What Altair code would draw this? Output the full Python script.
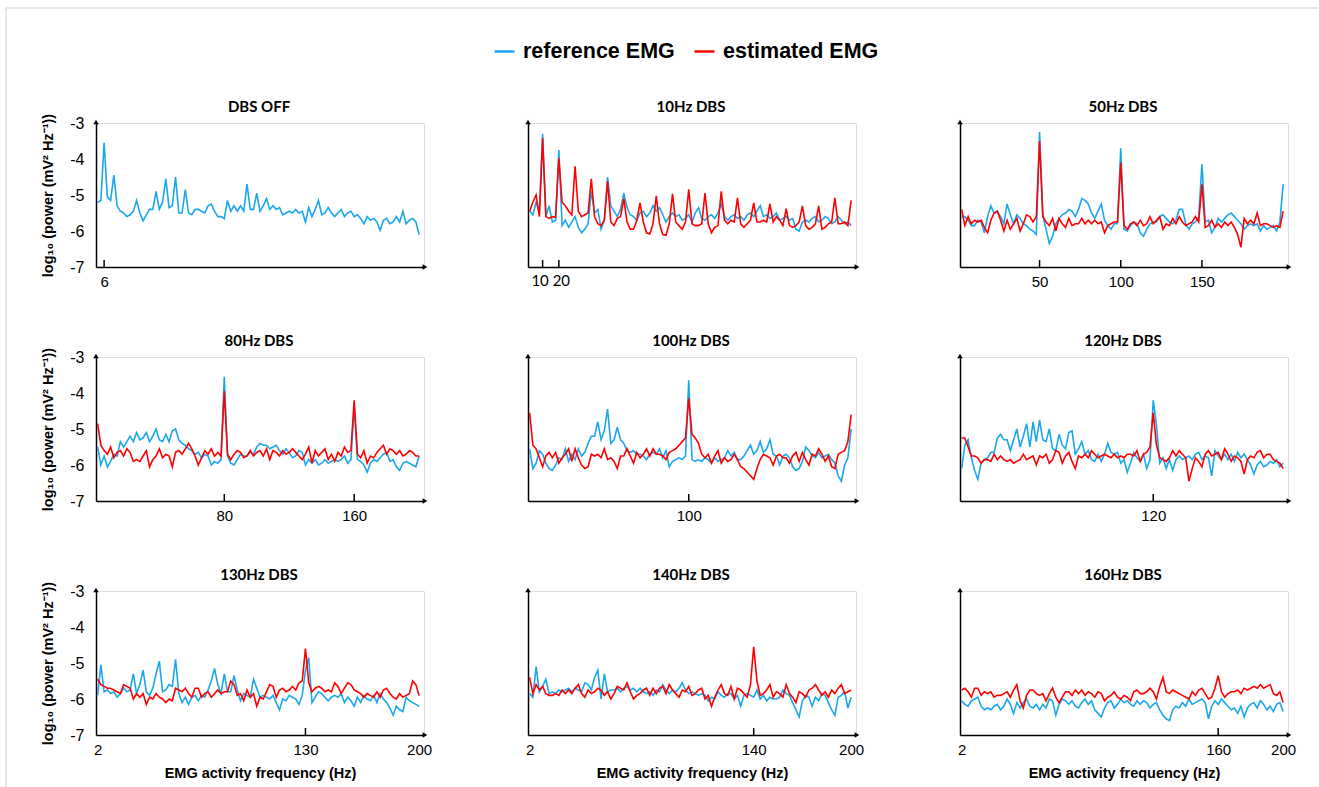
import altair as alt
import pandas as pd

FREQ = [2 * k for k in range(1, 101)]
SERIES = ["reference EMG", "estimated EMG"]
COLORS = ["#1AA7EC", "#FF0000"]

off_ref = [-5.2,-5.15,-3.55,-5.05,-5.15,-4.45,-5.3,-5.45,-5.5,-5.6,
 -5.55,-5.45,-5.15,-5.5,-5.72,-5.55,-5.4,-5.4,-4.9,-5.4,
 -5.2,-4.55,-5.35,-5.3,-4.5,-5.5,-5.5,-4.85,-5.5,-5.55,
 -5.4,-5.4,-5.45,-5.5,-5.3,-5.25,-5.45,-5.6,-5.6,-5.65,
 -5.15,-5.45,-5.3,-5.45,-5.3,-5.45,-4.7,-5.4,-5.4,-4.95,
 -5.45,-5.3,-5.1,-5.4,-5.3,-5.4,-5.35,-5.55,-5.5,-5.45,
 -5.5,-5.4,-5.5,-5.45,-5.75,-5.35,-5.6,-5.4,-5.15,-5.55,
 -5.5,-5.35,-5.5,-5.6,-5.5,-5.4,-5.6,-5.5,-5.45,-5.6,
 -5.55,-5.65,-5.8,-5.6,-5.7,-5.65,-5.75,-5.98,-5.7,-5.65,
 -5.8,-5.75,-5.6,-5.75,-5.45,-5.8,-5.7,-5.65,-5.75,-6.1]

hz10_est = [-5.45,-5.2,-5.0,-5.6,-3.42,-5.6,-5.65,-5.6,-5.62,-3.98,
 -5.2,-5.3,-5.45,-5.55,-4.2,-5.45,-5.6,-5.55,-5.5,-4.55,
 -5.6,-5.8,-5.85,-5.7,-4.62,-5.75,-5.85,-5.65,-5.6,-5.1,
 -5.75,-5.95,-5.95,-5.7,-5.22,-5.75,-6.05,-6.08,-5.8,-5.02,
 -5.8,-6.1,-6.12,-5.8,-4.97,-5.75,-5.85,-5.95,-5.75,-4.84,
 -5.8,-5.85,-5.85,-5.8,-4.95,-5.8,-6.05,-5.9,-5.85,-4.9,
 -5.7,-5.8,-5.7,-5.75,-5.08,-5.8,-5.9,-5.8,-5.7,-5.22,
 -5.75,-5.75,-5.7,-5.75,-5.25,-5.75,-5.6,-5.7,-5.85,-5.38,
 -5.85,-5.9,-5.85,-5.75,-5.3,-5.85,-5.95,-5.9,-5.8,-5.3,
 -5.95,-5.9,-5.8,-5.75,-5.08,-5.8,-5.8,-5.75,-5.85,-5.15]

hz10_ref = [-5.45,-5.55,-5.2,-5.5,-3.3,-5.6,-5.3,-5.75,-5.7,-3.75,
 -5.85,-5.7,-5.9,-5.75,-5.6,-5.9,-6.05,-5.95,-5.8,-4.9,
 -5.5,-5.4,-5.95,-5.7,-4.5,-5.3,-5.45,-5.6,-5.4,-4.95,
 -5.35,-5.55,-5.6,-5.7,-5.5,-5.45,-5.6,-5.5,-5.3,-5.45,
 -5.35,-5.55,-5.75,-5.6,-5.5,-5.6,-5.55,-5.7,-5.65,-5.55,
 -5.75,-5.5,-5.35,-5.65,-5.7,-5.6,-5.55,-5.65,-5.5,-5.25,
 -5.6,-5.7,-5.6,-5.55,-5.65,-5.6,-5.7,-5.55,-5.5,-5.6,
 -5.45,-5.3,-5.6,-5.55,-5.65,-5.6,-5.5,-5.7,-5.65,-5.6,
 -5.7,-5.65,-5.95,-6.0,-5.75,-5.7,-5.75,-5.65,-5.6,-5.75,
 -5.7,-5.6,-5.65,-5.8,-5.75,-5.6,-5.7,-5.8,-5.75,-5.85]

hz50_est = [-5.4,-5.85,-5.6,-5.8,-5.7,-5.75,-5.7,-5.9,-6.05,-5.7,
 -5.5,-5.45,-5.7,-6.0,-5.7,-5.95,-5.8,-5.65,-6.0,-5.8,
 -5.55,-5.6,-5.75,-5.6,-3.5,-5.6,-5.75,-5.85,-5.65,-6.0,
 -5.65,-5.8,-5.9,-5.65,-5.85,-5.8,-5.8,-5.65,-5.8,-5.7,
 -5.8,-5.7,-5.8,-5.75,-6.05,-5.85,-5.8,-5.75,-5.75,-4.1,
 -5.85,-5.95,-5.8,-5.75,-5.85,-5.7,-5.85,-5.8,-5.6,-5.8,
 -5.7,-5.6,-5.95,-5.8,-5.85,-5.65,-5.8,-5.6,-5.75,-5.85,
 -5.8,-5.75,-5.6,-5.75,-4.7,-5.9,-5.85,-5.7,-5.9,-5.8,
 -5.9,-5.75,-5.85,-5.75,-5.9,-6.1,-6.45,-5.65,-5.8,-5.7,
 -5.8,-5.5,-5.85,-5.8,-5.8,-5.85,-5.9,-5.85,-5.9,-5.45]

hz50_ref = [-5.6,-5.6,-5.7,-5.85,-5.85,-5.7,-5.75,-6.05,-5.6,-5.3,
 -5.5,-5.45,-5.6,-5.8,-5.25,-5.55,-5.8,-5.55,-5.65,-5.8,
 -5.85,-5.95,-6.0,-6.1,-3.25,-5.55,-5.95,-6.35,-6.15,-5.8,
 -5.65,-5.55,-5.5,-5.4,-5.45,-5.6,-5.4,-5.1,-5.15,-5.25,
 -5.5,-5.65,-5.45,-5.25,-5.7,-5.85,-5.95,-5.8,-5.8,-3.7,
 -5.95,-6.0,-5.85,-5.75,-5.8,-6.05,-6.15,-5.95,-5.8,-5.75,
 -5.75,-5.6,-5.55,-5.65,-5.75,-5.8,-5.7,-5.4,-5.4,-5.8,
 -5.95,-5.8,-5.75,-5.6,-4.15,-5.75,-5.7,-6.05,-5.9,-5.65,
 -5.75,-5.65,-5.55,-5.5,-5.6,-5.7,-5.8,-5.95,-5.85,-5.8,
 -5.85,-5.8,-6.0,-5.85,-5.95,-5.9,-5.85,-6.0,-5.75,-4.7]

hz80_est = [-4.85,-5.45,-5.6,-5.7,-5.5,-5.8,-5.65,-5.6,-5.75,-5.55,
 -5.65,-5.9,-5.85,-5.9,-5.75,-5.6,-6.05,-5.85,-5.75,-5.55,
 -5.8,-5.7,-5.75,-6.05,-5.65,-5.6,-5.7,-5.55,-5.4,-5.55,
 -5.75,-6.0,-5.8,-5.6,-5.7,-5.55,-5.75,-5.65,-5.75,-3.95,
 -5.7,-5.85,-5.7,-5.6,-5.65,-5.8,-5.75,-5.6,-5.75,-5.65,
 -5.6,-5.75,-5.55,-5.85,-5.6,-5.65,-5.75,-5.6,-5.7,-5.65,
 -5.55,-5.65,-5.75,-5.85,-5.7,-5.5,-5.95,-5.6,-5.75,-5.65,
 -5.55,-5.85,-5.7,-5.9,-5.65,-5.75,-5.5,-5.65,-5.6,-4.2,
 -5.7,-5.8,-5.6,-5.95,-5.75,-5.8,-5.65,-5.55,-5.45,-5.7,
 -5.55,-5.6,-5.7,-5.6,-5.75,-5.7,-5.6,-5.65,-5.75,-5.75]

hz80_ref = [-5.5,-6.0,-5.75,-6.05,-5.9,-5.7,-5.75,-5.35,-5.5,-5.35,
 -5.2,-5.35,-5.1,-5.3,-5.25,-5.1,-5.35,-5.2,-5.0,-5.3,
 -5.35,-5.15,-5.35,-5.05,-5.0,-5.3,-5.4,-5.45,-5.55,-5.6,
 -5.7,-5.65,-5.8,-5.7,-5.75,-6.0,-5.9,-5.95,-5.85,-3.55,
 -5.75,-5.95,-6.0,-5.85,-5.7,-5.75,-5.75,-5.65,-5.7,-5.5,
 -5.4,-5.45,-5.45,-5.55,-5.5,-5.45,-5.6,-5.7,-5.55,-5.65,
 -5.8,-5.75,-5.6,-5.65,-6.0,-5.85,-5.95,-5.85,-6.0,-5.95,
 -5.85,-5.95,-5.9,-5.85,-5.9,-5.85,-5.75,-5.95,-5.85,-4.35,
 -5.85,-5.9,-6.0,-6.2,-5.95,-5.85,-5.9,-5.8,-5.7,-5.65,
 -5.9,-5.85,-6.05,-6.15,-5.95,-5.9,-5.95,-6.0,-6.05,-5.75]

hz100_est = [-4.55,-5.45,-5.55,-5.8,-6.05,-5.75,-5.65,-5.8,-5.65,-5.95,
 -5.8,-5.7,-5.55,-5.9,-5.55,-5.8,-6.0,-6.1,-6.05,-5.7,
 -5.75,-5.7,-5.8,-5.55,-5.85,-5.8,-5.9,-6.1,-5.75,-5.75,
 -5.55,-5.75,-5.95,-5.65,-5.8,-5.7,-5.55,-5.75,-5.55,-5.7,
 -5.7,-5.75,-5.85,-5.65,-5.6,-5.55,-5.45,-5.35,-5.25,-4.15,
 -5.15,-5.25,-5.4,-5.7,-5.8,-5.7,-5.95,-5.75,-5.6,-5.95,
 -5.8,-5.9,-5.85,-5.7,-5.85,-6.05,-6.1,-6.2,-6.3,-6.4,
 -6.1,-5.85,-5.7,-5.75,-5.8,-6.0,-5.75,-5.7,-5.8,-5.8,
 -5.95,-5.75,-5.65,-5.9,-5.65,-5.85,-6.0,-5.7,-5.75,-5.55,
 -5.7,-5.9,-5.75,-6.05,-6.1,-5.7,-5.65,-5.6,-5.35,-4.6]

hz100_ref = [-5.55,-6.1,-5.95,-5.6,-5.7,-5.95,-6.1,-6.15,-6.0,-5.8,
 -5.85,-5.55,-5.9,-5.7,-5.85,-5.55,-5.75,-5.65,-5.4,-5.2,
 -5.2,-4.8,-5.3,-5.05,-4.45,-5.4,-5.3,-4.95,-5.3,-5.4,
 -5.6,-5.65,-5.6,-5.7,-5.7,-5.75,-5.85,-5.7,-5.65,-5.7,
 -5.55,-5.8,-5.6,-6.05,-5.9,-5.85,-5.8,-5.85,-5.75,-3.65,
 -5.85,-5.9,-5.85,-5.9,-5.8,-5.85,-5.95,-5.8,-5.9,-5.85,
 -5.8,-5.6,-5.75,-5.65,-5.85,-5.85,-5.75,-5.6,-5.45,-5.7,
 -5.6,-5.35,-5.65,-5.55,-5.3,-5.7,-5.75,-6.0,-5.75,-5.7,
 -5.8,-6.05,-6.15,-6.1,-5.9,-5.5,-5.6,-5.75,-5.8,-5.65,
 -5.8,-5.75,-5.7,-5.85,-5.95,-6.3,-6.45,-6.0,-5.8,-5.0]

hz120_est = [-5.25,-5.25,-5.5,-5.75,-5.75,-5.8,-5.95,-5.85,-5.85,-5.9,
 -5.7,-5.85,-5.75,-5.85,-5.9,-5.85,-5.95,-5.9,-5.85,-5.7,
 -5.85,-5.8,-5.75,-6.0,-5.75,-5.8,-5.7,-5.95,-5.85,-5.6,
 -5.65,-5.95,-5.75,-5.65,-5.9,-6.1,-5.75,-5.8,-5.7,-5.8,
 -5.6,-5.7,-5.8,-5.75,-5.7,-5.75,-5.8,-5.7,-5.8,-5.75,
 -5.8,-5.7,-5.7,-5.75,-5.6,-5.9,-5.7,-5.65,-5.5,-4.55,
 -5.45,-5.8,-5.85,-5.9,-5.8,-5.6,-5.75,-5.6,-5.7,-5.8,
 -6.45,-6.1,-5.8,-5.9,-6.05,-5.7,-5.6,-5.75,-5.7,-5.65,
 -5.85,-5.55,-5.7,-5.9,-5.75,-5.8,-5.9,-6.25,-5.85,-5.75,
 -5.8,-5.65,-5.6,-5.8,-5.7,-5.7,-5.85,-5.9,-5.95,-6.1]

hz120_ref = [-6.1,-5.45,-5.3,-5.8,-6.15,-6.4,-5.95,-5.85,-5.8,-5.65,
 -5.65,-5.25,-5.15,-5.3,-5.3,-5.6,-5.3,-5.0,-5.5,-5.2,
 -4.85,-5.5,-4.8,-5.35,-4.75,-5.3,-5.35,-5.0,-5.55,-5.6,
 -5.15,-5.45,-5.55,-5.1,-5.05,-5.7,-5.55,-5.35,-5.7,-5.6,
 -5.85,-5.9,-5.7,-5.9,-5.7,-5.4,-5.65,-5.7,-5.65,-5.95,
 -5.85,-6.2,-5.95,-5.65,-5.8,-5.9,-5.7,-6.1,-5.85,-4.2,
 -4.9,-5.95,-5.8,-6.1,-5.85,-6.15,-5.85,-5.75,-5.85,-5.8,
 -5.75,-5.85,-5.7,-5.65,-5.85,-5.75,-5.8,-6.3,-5.6,-5.75,
 -5.85,-5.7,-5.85,-5.7,-5.9,-5.65,-5.8,-5.7,-5.85,-6.0,
 -6.25,-6.0,-5.9,-6.05,-6.0,-5.9,-5.95,-5.85,-6.05,-5.95]

hz130_est = [-5.45,-5.6,-5.65,-5.7,-5.7,-5.75,-5.8,-5.85,-5.6,-5.65,
 -5.7,-6.0,-5.85,-5.95,-5.85,-6.15,-5.95,-6.0,-5.85,-5.95,
 -6.0,-6.1,-6.0,-6.05,-5.7,-5.75,-5.8,-5.7,-5.85,-5.95,
 -5.7,-5.7,-5.95,-5.85,-5.8,-5.95,-5.85,-5.75,-5.85,-5.8,
 -5.8,-5.5,-5.6,-5.9,-5.85,-6.05,-5.75,-5.95,-5.85,-6.2,
 -5.95,-6.0,-5.8,-5.6,-5.65,-5.95,-5.75,-5.7,-5.8,-5.75,
 -5.65,-5.75,-5.55,-5.5,-4.6,-5.55,-5.8,-5.7,-5.65,-5.7,
 -5.8,-5.75,-5.8,-5.55,-5.65,-5.85,-5.7,-5.55,-5.6,-5.75,
 -5.8,-5.85,-5.95,-5.85,-5.9,-5.95,-5.8,-5.95,-5.75,-5.7,
 -5.85,-5.95,-6.0,-5.85,-5.95,-5.9,-5.85,-5.5,-5.6,-5.9]

hz130_ref = [-5.9,-5.05,-5.8,-5.75,-5.85,-5.8,-5.95,-5.85,-5.7,-5.8,
 -5.75,-5.3,-5.85,-5.6,-5.2,-5.8,-5.9,-5.7,-5.3,-4.95,
 -5.8,-5.75,-5.6,-5.65,-4.9,-5.85,-6.1,-5.95,-6.15,-5.95,
 -5.9,-6.05,-5.9,-5.95,-5.75,-5.5,-5.15,-5.6,-5.85,-5.3,
 -5.8,-5.8,-5.35,-5.75,-6.05,-5.85,-5.9,-5.95,-5.45,-5.7,
 -5.95,-5.9,-5.95,-6.0,-5.9,-6.1,-6.3,-6.0,-6.05,-5.9,
 -5.95,-6.0,-6.15,-5.9,-5.2,-4.85,-6.1,-5.95,-5.8,-5.85,
 -5.95,-6.05,-5.95,-5.9,-5.95,-5.85,-6.1,-5.95,-6.05,-6.2,
 -5.95,-6.1,-5.9,-6.0,-6.05,-5.9,-6.1,-5.85,-6.0,-6.1,
 -6.25,-6.45,-6.2,-6.3,-6.35,-5.95,-6.05,-6.1,-6.15,-6.2]

hz140_est = [-5.4,-5.85,-5.6,-5.75,-5.65,-5.85,-5.9,-5.9,-5.85,-5.9,
 -5.75,-5.85,-5.75,-5.85,-5.7,-5.6,-5.85,-5.95,-5.75,-5.85,
 -5.8,-5.7,-5.75,-5.9,-5.8,-6.0,-5.85,-5.65,-5.7,-5.75,
 -5.55,-5.8,-6.0,-5.9,-5.85,-5.75,-5.7,-5.9,-5.7,-5.85,
 -5.7,-5.65,-5.85,-5.6,-5.75,-5.85,-5.95,-5.75,-5.8,-5.65,
 -5.9,-5.85,-5.75,-5.7,-6.0,-5.9,-6.2,-5.95,-5.75,-5.6,
 -5.85,-5.9,-5.65,-6.0,-5.7,-5.75,-5.85,-5.95,-5.6,-4.55,
 -5.5,-5.9,-5.85,-5.75,-5.6,-5.95,-5.8,-5.85,-5.95,-5.6,
 -5.85,-5.95,-6.1,-5.8,-5.85,-5.95,-5.75,-5.7,-5.6,-5.75,
 -5.9,-5.8,-5.95,-5.75,-5.85,-5.7,-5.6,-5.85,-5.8,-5.75]

hz140_ref = [-5.85,-5.95,-5.1,-5.8,-5.65,-5.45,-5.85,-5.8,-5.85,-5.75,
 -5.8,-5.75,-5.7,-5.8,-5.7,-5.75,-5.8,-5.55,-5.6,-5.75,
 -5.4,-5.2,-6.0,-5.3,-5.8,-5.75,-5.75,-5.7,-5.8,-5.7,
 -5.65,-5.75,-5.7,-5.8,-5.7,-5.8,-5.85,-5.8,-5.9,-5.75,
 -5.8,-5.6,-5.75,-5.85,-5.75,-5.8,-5.7,-5.55,-5.75,-5.85,
 -5.8,-5.85,-5.9,-5.85,-5.9,-6.05,-5.95,-6.0,-5.8,-5.9,
 -5.95,-5.85,-5.85,-6.0,-5.9,-6.2,-5.9,-5.85,-5.9,-5.95,
 -5.75,-6.0,-5.9,-6.05,-5.95,-6.0,-6.0,-5.95,-5.75,-5.85,
 -5.9,-6.1,-6.3,-6.5,-6.05,-5.9,-5.95,-6.2,-5.95,-6.05,
 -5.85,-5.9,-6.1,-6.3,-6.45,-5.95,-5.9,-5.8,-6.25,-5.95]

hz160_est = [-5.75,-5.7,-5.8,-5.95,-5.7,-5.7,-5.9,-5.8,-5.85,-5.8,
 -5.95,-5.9,-5.9,-5.85,-5.8,-5.95,-5.75,-5.6,-6.05,-6.25,
 -5.9,-5.75,-5.75,-5.85,-5.9,-5.85,-6.05,-5.85,-5.7,-5.95,
 -6.1,-5.95,-5.8,-5.8,-5.9,-5.75,-5.85,-5.75,-5.9,-5.8,
 -5.85,-5.95,-5.8,-5.85,-6.05,-5.95,-5.9,-5.8,-5.95,-6.0,
 -5.9,-5.95,-6.05,-5.8,-5.75,-5.85,-5.85,-5.8,-5.7,-5.8,
 -6.0,-5.65,-5.4,-5.8,-5.85,-5.75,-5.8,-5.85,-5.9,-5.95,
 -6.0,-5.8,-5.9,-5.75,-5.7,-5.85,-6.0,-5.95,-5.7,-5.35,
 -5.8,-5.95,-5.85,-5.8,-5.8,-5.75,-5.85,-5.7,-5.75,-5.7,
 -5.65,-5.7,-5.6,-5.7,-5.65,-5.6,-5.85,-5.9,-5.8,-6.1]

hz160_ref = [-6.05,-6.15,-6.2,-6.05,-6.0,-5.95,-6.2,-6.3,-6.25,-6.3,
 -6.2,-6.15,-6.3,-6.2,-6.0,-6.15,-6.4,-6.1,-6.25,-6.1,
 -6.0,-6.2,-6.25,-6.15,-6.3,-6.15,-6.25,-6.0,-6.05,-6.45,
 -6.15,-6.0,-6.05,-6.15,-6.05,-6.2,-6.25,-6.1,-6.0,-6.15,
 -6.05,-6.3,-6.4,-6.5,-6.25,-6.1,-6.05,-6.25,-6.15,-6.0,
 -6.1,-6.05,-6.15,-6.2,-6.05,-6.15,-6.05,-6.1,-6.25,-6.15,
 -6.1,-6.3,-6.45,-6.55,-6.6,-6.3,-6.2,-6.25,-6.1,-6.2,
 -6.0,-6.15,-6.1,-6.05,-6.0,-6.1,-6.55,-6.2,-6.05,-6.15,
 -6.0,-6.1,-6.2,-6.3,-6.25,-6.4,-6.2,-6.5,-6.25,-6.15,
 -6.1,-6.25,-6.05,-6.15,-6.3,-6.2,-6.35,-6.15,-6.1,-6.35]

TITLES = ["DBS OFF", "10Hz DBS", "50Hz DBS", "80Hz DBS", "100Hz DBS",
          "120Hz DBS", "130Hz DBS", "140Hz DBS", "160Hz DBS"]
LABELS = [[6], [10, 20], [50, 100, 150], [80, 160], [100], [120],
          [2, 130, 200], [2, 140, 200], [2, 160, 200]]
MARKS = [[6], [10, 20], [50, 100, 150], [80, 160], [100], [120], [130], [140], [160]]
Y_TICKS = [-7, -6, -5, -4, -3]
REF = [off_ref, hz10_ref, hz50_ref, hz80_ref, hz100_ref, hz120_ref, hz130_ref, hz140_ref, hz160_ref]
EST = [[], hz10_est, hz50_est, hz80_est, hz100_est, hz120_est, hz130_est, hz140_est, hz160_est]

W, H = 328, 144
FONT = "Lato"
YTITLE = "log\u2081\u2080 (power (mV\u00b2 Hz\u207b\u00b9))"
XTITLE = "EMG activity frequency (Hz)"

LEGEND = alt.Legend(orient="none", legendX=397, legendY=-83, direction="horizontal",
                    title=None, labelFont="Liberation Sans", labelFontSize=21.5,
                    labelFontWeight="bold", labelColor="black", symbolType="stroke",
                    symbolSize=400, symbolStrokeWidth=2.5, labelOffset=7,
                    columnPadding=14, padding=0)


def panel(i):
    col, row = i % 3, i // 3
    recs = [{"freq": f, "power": v, "series": SERIES[0]} for f, v in zip(FREQ, REF[i])]
    recs += [{"freq": f, "power": v, "series": SERIES[1]} for f, v in zip(FREQ, EST[i])]
    df = pd.DataFrame(recs)
    close_labels = i == 1  # the "10" and "20" labels sit nudged apart

    xaxis = alt.Axis(values=LABELS[i], ticks=False, grid=False, labelFontSize=15,
                     labels=not close_labels,
                     labelPadding=7, domainColor="black", domainWidth=1.5,
                     labelFlush=False, labelOverlap=False, labelExpr="'' + datum.value",
                     title=XTITLE if row == 2 else None, titleFontSize=14.5,
                     titleFontWeight="bold", titlePadding=9)
    yaxis = alt.Axis(values=Y_TICKS, ticks=False, grid=False, labels=(col == 0),
                     labelFontSize=16, labelPadding=12, domainColor="black",
                     domainWidth=1.5, labelExpr="'' + datum.value",
                     title=YTITLE if col == 0 else None, titleFontSize=14.5,
                     titleFontWeight="bold", titlePadding=14)
    x = alt.X("freq:Q", scale=alt.Scale(domain=[1, 203], nice=False, zero=False), axis=xaxis)
    y = alt.Y("power:Q", scale=alt.Scale(domain=[-7, -3], nice=False, zero=False), axis=yaxis)
    color = alt.Color("series:N", scale=alt.Scale(domain=SERIES, range=COLORS), legend=LEGEND)

    base = alt.Chart(df)
    blue = base.transform_filter(alt.datum.series == SERIES[0]).mark_line(
        strokeWidth=1.6).encode(x=x, y=y, color=color)
    red = base.transform_filter(alt.datum.series == SERIES[1]).mark_line(
        strokeWidth=1.6).encode(x=x, y=y, color=color)
    ticks = alt.Chart(pd.DataFrame({"freq": MARKS[i]})).mark_rule(
        color="black", strokeWidth=1.5).encode(x=x, y=alt.value(H - 7), y2=alt.value(H))
    one = pd.DataFrame({"k": [0]})
    arrow_up = alt.Chart(one).mark_point(shape="triangle-up", filled=True, size=30,
                                         color="black", opacity=1).encode(
        x=alt.value(0), y=alt.value(-1))
    arrow_right = alt.Chart(one).mark_point(shape="triangle-right", filled=True, size=30,
                                            color="black", opacity=1).encode(
        x=alt.value(W + 1), y=alt.value(H))
    title = alt.Chart(pd.DataFrame({"t": [TITLES[i]]})).mark_text(
        font=FONT, fontSize=15, fontWeight="bold", color="black", align="center",
        baseline="middle").encode(text="t:N", x=alt.value(W / 2 - 1), y=alt.value(-16))
    layers = [blue, red, ticks, arrow_up, arrow_right, title]
    if close_labels:
        for val, nudge in zip(LABELS[i], [-2.5, 2.5]):
            lab = alt.Chart(pd.DataFrame({"freq": [val], "lab": [str(val)]})).mark_text(
                font=FONT, fontSize=15, color="black", align="center", baseline="top",
                dx=nudge).encode(x=x, y=alt.value(H + 7), text="lab:N")
            layers.append(lab)
    if i == 0:
        bv = alt.Chart(one).mark_rule(color="#cfcfcf", strokeWidth=1).encode(
            x=alt.value(-90), y=alt.value(-115), y2=alt.value(664))
        bh = alt.Chart(one).mark_rule(color="#cfcfcf", strokeWidth=1).encode(
            x=alt.value(-90), x2=alt.value(1222), y=alt.value(-115))
        layers += [bv, bh]
    return alt.layer(*layers).properties(width=W, height=H)


chart = alt.concat(*[panel(i) for i in range(9)], columns=3,
                   spacing={"row": 90, "column": 104}, bounds="flush").properties(
    padding={"left": 5, "top": 7, "right": 0, "bottom": 0}
).configure_view(strokeWidth=0).configure_axis(
    labelFont=FONT, titleFont=FONT, labelColor="black", titleColor="black"
).configure(background="white")

chart.save("out.html", embed_options={"renderer": "svg", "actions": False})
